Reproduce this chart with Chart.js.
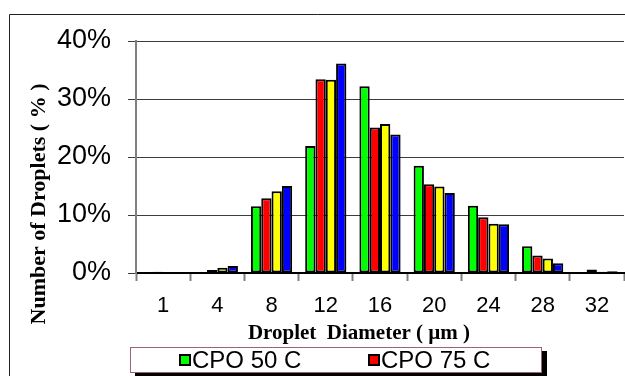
<!DOCTYPE html>
<html>
<head>
<meta charset="utf-8">
<script src="https://cdn.jsdelivr.net/npm/chart.js@4/dist/chart.umd.min.js"></script>
<style>
  html, body { margin: 0; padding: 0; background: #ffffff; }
  canvas { display: block; }
</style>
</head>
<body>
<canvas id="c" width="625" height="376"></canvas>
<script>
// Droplet size distribution (percent of droplets per diameter class)
const diameters = ['1', '4', '8', '12', '16', '20', '24', '28', '32'];
const seriesNames = ['CPO 50 C', 'CPO 75 C', 'CPO 100 C', 'CPO 125 C'];
const cpo50  = [null, null, 11.5, 21.9, 32.2, 18.5, 11.6, 4.6, null];
const cpo75  = [0.2, 0.5, 12.9, 33.4, 25.1, 15.3, 9.6, 3.0, 0.6];
const cpo100 = [null, 0.9, 14.1, 33.3, 25.7, 14.9, 8.5, 2.5, 0.2];
const cpo125 = [null, 1.2, 15.0, 36.1, 23.9, 13.8, 8.4, 1.7, 0.3];
const yTicks = [0, 10, 20, 30, 40];

const colors = ['#00ff00', '#ff0000', '#ffff00', '#0000ff'];
const SANS = "'Liberation Sans', Arial, sans-serif";
const SERIF = "'Liberation Serif', 'Times New Roman', serif";

const seriesValues = [cpo50, cpo75, cpo100, cpo125];
const datasets = seriesValues.map((vals, i) => ({
  label: seriesNames[i],
  data: vals,
  backgroundColor: colors[i],
  borderColor: '#000000',
  borderWidth: 2,
  borderSkipped: false,
  categoryPercentage: 0.76,
  barPercentage: 1.0
}));

// Frame, axis titles and boxed legend drawn onto the canvas
const decorations = {
  id: 'decorations',
  afterDraw(chart) {
    const ctx = chart.ctx;
    ctx.save();

    // outer frame
    ctx.strokeStyle = '#222222';
    ctx.lineWidth = 1;
    ctx.beginPath();
    ctx.moveTo(9.5, 376);
    ctx.lineTo(9.5, 14.5);
    ctx.lineTo(625, 14.5);
    ctx.stroke();

    // y axis title
    ctx.fillStyle = '#000000';
    ctx.font = "bold 22px " + SERIF;
    ctx.textAlign = 'center';
    ctx.textBaseline = 'middle';
    ctx.translate(39, 204);
    ctx.rotate(-Math.PI / 2);
    ctx.fillText('Number of Droplets ( % )', 0, 0);
    ctx.setTransform(1, 0, 0, 1, 0, 0);

    // x axis title
    ctx.font = "bold 21px " + SERIF;
    ctx.textAlign = 'center';
    ctx.textBaseline = 'alphabetic';
    ctx.fillText('Droplet  Diameter ( \u00b5m )', 359, 338.5);

    // legend box with drop shadow; one row of entries fits inside it
    const lx = 130, ly = 347, lw = 411, lh = 25;
    ctx.fillStyle = '#000000';
    ctx.fillRect(lx + 5, ly + 4, lw + 1, lh + 1);
    ctx.fillStyle = '#ffffff';
    ctx.fillRect(lx, ly, lw, lh);
    ctx.strokeStyle = '#a0607e';
    ctx.lineWidth = 1;
    ctx.strokeRect(lx + 0.5, ly + 0.5, lw, lh);

    ctx.save();
    ctx.beginPath();
    ctx.rect(lx + 1, ly + 1, lw - 1, lh - 1);
    ctx.clip();
    ctx.font = "24px " + SANS;
    ctx.textAlign = 'left';
    ctx.textBaseline = 'alphabetic';
    const colX = [180, 369];
    chart.data.datasets.forEach((ds, i) => {
      const x = colX[i % 2];
      const y = ly + 8 + Math.floor(i / 2) * 26;
      ctx.fillStyle = ds.backgroundColor;
      ctx.fillRect(x, y, 10, 10);
      ctx.strokeStyle = '#000000';
      ctx.lineWidth = 2;
      ctx.strokeRect(x, y, 10, 10);
      ctx.fillStyle = '#000000';
      ctx.fillText(ds.label, x + 12, y + 12.5);
    });
    ctx.restore();

    ctx.restore();
  }
};

new Chart(document.getElementById('c'), {
  type: 'bar',
  data: { labels: diameters, datasets },
  plugins: [decorations],
  options: {
    responsive: false,
    animation: false,
    events: [],
    layout: { padding: { top: 41, right: 1, left: 0, bottom: 0 } },
    plugins: {
      legend: { display: false },
      tooltip: { enabled: false },
      title: { display: false }
    },
    scales: {
      x: {
        offset: true,
        grid: {
          offset: true,
          drawOnChartArea: false,
          drawTicks: true,
          tickLength: 8,
          tickColor: '#808080',
          tickWidth: 2
        },
        border: { display: true, color: '#000000', width: 2 },
        ticks: {
          color: '#000000',
          font: { family: SANS, size: 22 },
          padding: 12,
          maxRotation: 0,
          autoSkip: false
        },
        afterFit(scale) { scale.height = 103; }
      },
      y: {
        min: 0,
        max: 40,
        afterBuildTicks(scale) { scale.ticks = yTicks.map(v => ({ value: v })); },
        grid: {
          color: '#3c3c3c',
          lineWidth: 1,
          drawTicks: true,
          tickLength: 8,
          tickColor: '#3c3c3c'
        },
        border: { display: true, color: '#808080', width: 2 },
        ticks: {
          color: '#000000',
          font: { family: SANS, size: 27 },
          padding: 17,
          callback: v => v + '%'
        },
        afterFit(scale) { scale.width = 136; }
      }
    }
  }
});
</script>
</body>
</html>
